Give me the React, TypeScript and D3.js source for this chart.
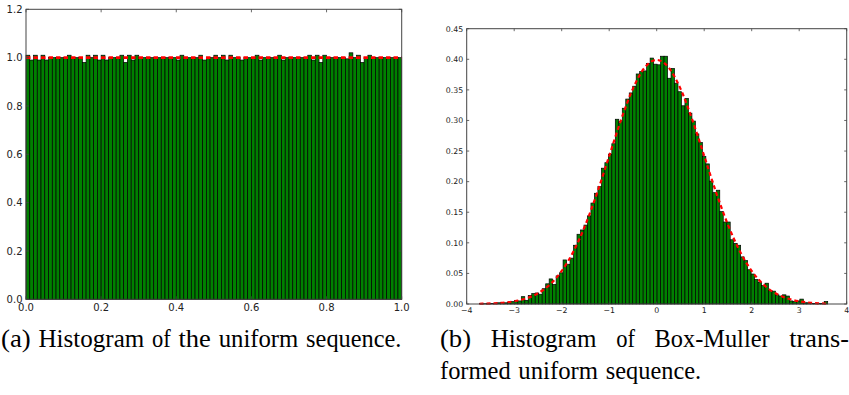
import { useEffect, useRef } from "react";
import * as d3 from "d3";

const WIDTH = 849;
const HEIGHT = 395;

// (a) histogram of the uniform sequence, 100 bins on [0, 1]
const uniformDomain: [number, number] = [0, 1];
const uniformDensity = [
  1.01, 0.99, 1.01, 0.99, 1.01, 0.99, 1.0, 1.0, 1.0, 1.0,
  1.0, 1.01, 1.0, 1.0, 1.0, 0.98, 1.01, 1.0, 1.01, 0.99,
  1.01, 0.99, 1.0, 1.0, 1.0, 1.01, 0.98, 1.01, 0.99, 1.01,
  1.0, 1.0, 1.0, 1.0, 1.0, 1.0, 1.0, 1.0, 1.0, 1.0,
  0.99, 1.01, 1.0, 1.0, 1.0, 1.0, 1.01, 0.99, 1.0, 1.0,
  1.01, 1.0, 1.01, 0.99, 1.01, 1.0, 1.0, 0.99, 1.0, 1.0,
  1.0, 1.01, 0.99, 1.0, 1.0, 1.0, 1.0, 1.01, 0.99, 1.0,
  1.0, 1.0, 1.0, 1.0, 1.0, 1.01, 0.99, 1.01, 0.98, 1.01,
  1.0, 1.0, 1.0, 1.0, 1.0, 0.995, 1.02, 1.0, 1.01, 0.98,
  1.0, 1.01, 1.0, 1.0, 1.0, 1.0, 1.0, 1.0, 1.0, 1.0,
];
const uniformPdfX = [0, 0.25, 0.5, 0.75, 1];
const uniformPdfY = [1, 1, 1, 1, 1];
const uniformXTicks = [0, 0.2, 0.4, 0.6, 0.8, 1.0];
const uniformYTicks = [0, 0.2, 0.4, 0.6, 0.8, 1.0, 1.2];

// (b) histogram of the Box-Muller transformed sequence, 100 bins
const normalBinStart = -3.73;
const normalBinWidth = 0.0733;
const normalDensity = [
  0.001, 0.0005, 0.001, 0.001, 0.001, 0.002, 0.002, 0.002, 0.003, 0.004,
  0.006, 0.005, 0.012, 0.006, 0.014, 0.017, 0.018, 0.016, 0.025, 0.033,
  0.041, 0.032, 0.046, 0.051, 0.072, 0.065, 0.075, 0.096, 0.114, 0.121,
  0.129, 0.144, 0.165, 0.181, 0.192, 0.222, 0.231, 0.245, 0.262, 0.302,
  0.298, 0.32, 0.335, 0.345, 0.356, 0.376, 0.38, 0.381, 0.393, 0.402,
  0.392, 0.391, 0.405, 0.405, 0.369, 0.385, 0.361, 0.347, 0.324, 0.336,
  0.312, 0.299, 0.278, 0.264, 0.241, 0.229, 0.201, 0.182, 0.186, 0.151,
  0.134, 0.134, 0.105, 0.099, 0.096, 0.077, 0.071, 0.056, 0.049, 0.04,
  0.035, 0.03, 0.034, 0.022, 0.021, 0.015, 0.013, 0.015, 0.013, 0.005,
  0.004, 0.005, 0.008, 0.002, 0.002, 0.001, 0.001, 0.001, 0.001, 0.004,
];
const normalPdfX = [
  -3.73, -3.5, -3.25, -3, -2.75, -2.5, -2.25, -2, -1.75, -1.5, -1.25, -1,
  -0.75, -0.5, -0.25, 0, 0.25, 0.5, 0.75, 1, 1.25, 1.5, 1.75, 2, 2.25, 2.5,
  2.75, 3, 3.25, 3.5, 3.6,
];
const normalPdfY = [
  0.0004, 0.0009, 0.002, 0.0044, 0.0091, 0.0175, 0.0317, 0.054, 0.0863,
  0.1295, 0.1826, 0.242, 0.3011, 0.3521, 0.3867, 0.3989, 0.3867, 0.3521,
  0.3011, 0.242, 0.1826, 0.1295, 0.0863, 0.054, 0.0317, 0.0175, 0.0091,
  0.0044, 0.002, 0.0009, 0.0006,
];
const normalXTicks = [-4, -3, -2, -1, 0, 1, 2, 3, 4];
const normalYTicks = [0, 0.05, 0.1, 0.15, 0.2, 0.25, 0.3, 0.35, 0.4, 0.45];

// captions (words with their Computer Modern widths in em)
const captionA = [["(a)", 1.278], ["Histogram", 4.536], ["of", 0.806], ["the", 1.389], ["uniform", 3.421], ["sequence.", 4.088]] as const;
const captionB1 = [["(b)", 1.334], ["Histogram", 4.536], ["of", 0.806], ["Box-Muller", 4.934], ["trans-", 2.564]] as const;
const captionB2 = [["formed", 3.031], ["uniform", 3.421], ["sequence.", 4.088]] as const;

const GREEN = "#008000";
const RED = "#ff0000";
const FRAME = "#444";
const TICK_TEXT = "#222";

export default function App() {
  const svgRef = useRef<SVGSVGElement>(null);

  useEffect(() => {
    const svg = d3.select(svgRef.current);
    svg.selectAll("*").remove();

    // ---------- (a) uniform ----------
    const xA = d3.scaleLinear().domain(uniformDomain).range([26, 401.7]);
    const yA = d3.scaleLinear().domain([0, 1.2]).range([299.3, 9.3]);
    const gA = svg.append("g");
    const binA = (uniformDomain[1] - uniformDomain[0]) / uniformDensity.length;

    gA.selectAll("rect.bar")
      .data(uniformDensity)
      .join("rect")
      .attr("class", "bar")
      .attr("x", (_, i) => xA(i * binA))
      .attr("width", xA(binA) - xA(0))
      .attr("y", d => yA(d))
      .attr("height", d => yA(0) - yA(d))
      .attr("fill", GREEN)
      .attr("stroke", "#000")
      .attr("stroke-width", 0.7);

    gA.append("path")
      .datum(uniformPdfX.map((x, i) => [x, uniformPdfY[i]] as [number, number]))
      .attr("d", d3.line().x(d => xA(d[0])).y(d => yA(d[1])))
      .attr("fill", "none")
      .attr("stroke", RED)
      .attr("stroke-width", 2.6)
      .attr("stroke-dasharray", "4.5,3");

    drawFrame(gA, xA, yA, uniformXTicks, uniformYTicks, d3.format(".1f"), 10, 3, 11.5);

    // ---------- (b) Box-Muller ----------
    const xB = d3.scaleLinear().domain([-4, 4]).range([466.7, 846.7]);
    const yB = d3.scaleLinear().domain([0, 0.45]).range([304, 28.7]);
    const gB = svg.append("g");

    gB.selectAll("rect.bar")
      .data(normalDensity)
      .join("rect")
      .attr("class", "bar")
      .attr("x", (_, i) => xB(normalBinStart + i * normalBinWidth))
      .attr("width", xB(normalBinWidth) - xB(0))
      .attr("y", d => yB(d))
      .attr("height", d => yB(0) - yB(d))
      .attr("fill", GREEN)
      .attr("stroke", "#000")
      .attr("stroke-width", 0.7);

    gB.append("path")
      .datum(normalPdfX.map((x, i) => [x, normalPdfY[i]] as [number, number]))
      .attr("d", d3.line().x(d => xB(d[0])).y(d => yB(d[1])).curve(d3.curveMonotoneX))
      .attr("fill", "none")
      .attr("stroke", RED)
      .attr("stroke-width", 2.2)
      .attr("stroke-dasharray", "4,3");

    const fmtX = (d: number) => (d < 0 ? "\u2212" + Math.abs(d) : String(d));
    drawFrame(gB, xB, yB, normalXTicks, normalYTicks, d3.format(".2f"), 7.8, 2.5, 8.8, fmtX);

    // ---------- captions ----------
    const em = 23.3;
    const space = 0.333 * em;
    const cap = svg.append("g").attr("fill", "#000");

    const placeLine = (
      words: readonly (readonly [string, number])[],
      x0: number,
      y: number,
      justifyTo?: number
    ) => {
      const total = d3.sum(words, w => w[1] * em);
      const gap = justifyTo != null
        ? (justifyTo - x0 - total) / (words.length - 1)
        : space;
      let x = x0;
      words.forEach(([word, w]) => {
        cap.append("text")
          .attr("x", x)
          .attr("y", y)
          .style("font-family", '"Liberation Serif"')
          .style("font-size", "24.5px")
          .attr("textLength", w * em)
          .attr("lengthAdjust", "spacingAndGlyphs")
          .text(word);
        x += w * em + gap;
      });
    };

    placeLine(captionA, 1, 347);
    placeLine(captionB1, 440, 347, 849);
    placeLine(captionB2, 440, 379);
  }, []);

  return (
    <svg
      ref={svgRef}
      width={WIDTH}
      height={HEIGHT}
      style={{ position: "absolute", left: 0, top: 0, background: "#fff" }}
    />
  );
}

function drawFrame(
  g: d3.Selection<SVGGElement, unknown, null, undefined>,
  x: d3.ScaleLinear<number, number>,
  y: d3.ScaleLinear<number, number>,
  xTicks: number[],
  yTicks: number[],
  fmtY: (d: number) => string,
  fontSize: number,
  tickLen: number,
  xLabelOffset: number,
  fmtX: (d: number) => string = fmtY
) {
  const [x0, x1] = x.range();
  const [y0, y1] = y.range();

  // inward ticks on all four sides
  xTicks.forEach(t => {
    const px = x(t);
    g.append("line").attr("x1", px).attr("x2", px).attr("y1", y0).attr("y2", y0 - tickLen)
      .attr("stroke", FRAME).attr("stroke-width", 0.8);
    g.append("line").attr("x1", px).attr("x2", px).attr("y1", y1).attr("y2", y1 + tickLen)
      .attr("stroke", FRAME).attr("stroke-width", 0.8);
  });
  yTicks.forEach(t => {
    const py = y(t);
    g.append("line").attr("x1", x0).attr("x2", x0 + tickLen).attr("y1", py).attr("y2", py)
      .attr("stroke", FRAME).attr("stroke-width", 0.8);
    g.append("line").attr("x1", x1).attr("x2", x1 - tickLen).attr("y1", py).attr("y2", py)
      .attr("stroke", FRAME).attr("stroke-width", 0.8);
  });

  g.append("rect")
    .attr("x", x0).attr("y", y1)
    .attr("width", x1 - x0).attr("height", y0 - y1)
    .attr("fill", "none")
    .attr("stroke", FRAME)
    .attr("stroke-width", 1);

  const labels = g.append("g")
    .attr("font-family", "'DejaVu Sans', sans-serif")
    .attr("font-size", fontSize)
    .attr("fill", TICK_TEXT);

  labels.selectAll("text.xt")
    .data(xTicks)
    .join("text")
    .attr("class", "xt")
    .attr("x", d => x(d))
    .attr("y", y0 + xLabelOffset)
    .attr("text-anchor", "middle")
    .text(d => fmtX(d));

  labels.selectAll("text.yt")
    .data(yTicks)
    .join("text")
    .attr("class", "yt")
    .attr("x", x0 - 3.5)
    .attr("y", d => y(d))
    .attr("dy", "0.36em")
    .attr("text-anchor", "end")
    .text(d => fmtY(d));
}
